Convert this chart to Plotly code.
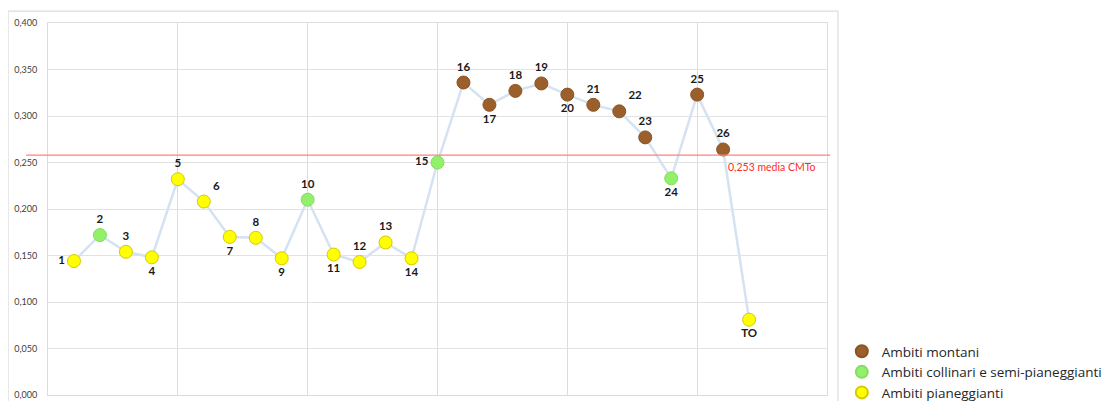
import plotly.graph_objects as go

# ---- data ----
labels = ["1", "2", "3", "4", "5", "6", "7", "8", "9", "10", "11", "12", "13", "14",
          "15", "16", "17", "18", "19", "20", "21", "22", "23", "24", "25", "26", "TO"]
values = [0.144, 0.172, 0.154, 0.148, 0.232, 0.208, 0.170, 0.169, 0.147, 0.210,
          0.151, 0.143, 0.164, 0.147, 0.250, 0.336, 0.312, 0.327, 0.335, 0.323,
          0.312, 0.305, 0.277, 0.233, 0.323, 0.264, 0.081]
categories = ["P", "C", "P", "P", "P", "P", "P", "P", "P", "C",
              "P", "P", "P", "P", "C", "M", "M", "M", "M", "M",
              "M", "M", "M", "C", "M", "M", "P"]
label_pos = ["middle left", "top center", "top center", "bottom center", "top center",
             "top right", "bottom center", "top center", "bottom center", "top center",
             "bottom center", "top center", "top center", "bottom center", "middle left",
             "top center", "bottom center", "top center", "top center", "bottom center",
             "top center", "top right", "top center", "bottom center", "top center",
             "top center", "bottom center"]
series_names = {"M": "Ambiti montani",
                "C": "Ambiti collinari e semi-pianeggianti",
                "P": "Ambiti pianeggianti"}
series_colors = {"M": "#9b5f2c", "C": "#92f06a", "P": "#ffff00"}
series_edges = {"M": "#8a5426", "C": "#86dc62", "P": "#d8c800"}
media_value = 0.258
media_text = "0,253 media CMTo"
positions = list(range(1, len(values) + 1))

fig = go.Figure()

fig.add_trace(go.Scatter(
    x=positions, y=values, mode="lines",
    line=dict(color="#d5e2f2", width=2.5),
    showlegend=False, hoverinfo="skip"))

for key in ["M", "C", "P"]:
    idx = [i for i, c in enumerate(categories) if c == key]
    fig.add_trace(go.Scatter(
        x=[positions[i] for i in idx],
        y=[values[i] for i in idx],
        text=[labels[i] for i in idx],
        textposition=[label_pos[i] for i in idx],
        mode="markers+text",
        name=series_names[key],
        marker=dict(size=13, color=series_colors[key],
                    line=dict(color=series_edges[key], width=1)),
        textfont=dict(family="Lato", size=11.5, color="#1a1a1a", weight="bold"),
    ))

# red mean line spanning slightly beyond the plot area
fig.add_shape(type="line", xref="paper", yref="y",
              x0=-0.028, x1=1.004, y0=media_value, y1=media_value,
              line=dict(color="#ff8080", width=1.2))
fig.add_annotation(x=27.9, y=media_value, yshift=-12, xref="x", yref="y",
                   text=media_text, showarrow=False,
                   font=dict(family="Lato", size=10.5, color="#ff2a2a"))

# outer chart border
fig.add_shape(type="rect", xref="paper", yref="paper",
              x0=-0.0513, x1=1.0141, y0=-0.05, y1=1.032,
              line=dict(color="#dcdcdc", width=1.2), fillcolor="rgba(0,0,0,0)",
              layer="below")

fig.update_layout(
    width=1109, height=401,
    margin=dict(l=40, r=290, t=15, b=14, autoexpand=False),
    paper_bgcolor="white", plot_bgcolor="white",
    separators=",.",
    font=dict(family="Lato", color="#404040"),
    legend=dict(x=1.019, xanchor="left", y=-0.035, yanchor="bottom",
                font=dict(family="Open Sans", size=13.5, color="#262626"),
                tracegroupgap=0, itemsizing="constant", bgcolor="rgba(0,0,0,0)"),
    showlegend=True,
)
fig.update_xaxes(range=[0, 30], dtick=5, tick0=0, showticklabels=False,
                 showgrid=True, gridcolor="#dcdcdc", gridwidth=1,
                 showline=True, linecolor="#dcdcdc", mirror=True, zeroline=False)
fig.update_yaxes(range=[0, 0.4], dtick=0.05, tickformat=".3f",
                 showgrid=True, gridcolor="#e2e2e2", gridwidth=1,
                 showline=True, linecolor="#dcdcdc", mirror=True, zeroline=False,
                 ticklabelstandoff=8,
                 tickfont=dict(family="Lato", size=9, color="#404040"))

fig.write_html("out.html")
